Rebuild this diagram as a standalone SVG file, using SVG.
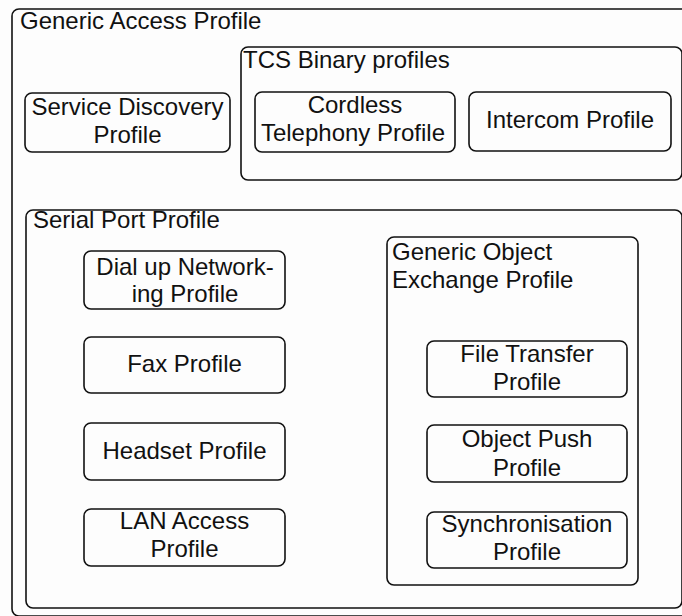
<svg xmlns="http://www.w3.org/2000/svg" width="682" height="616" viewBox="0 0 682 616">
  <style>
    .box { fill: none; stroke: #111; stroke-width: 1.6; }
    .frame { fill: #fdfdfd; stroke: #111; stroke-width: 1.6; }
    text { font-family: "Liberation Sans", Arial, sans-serif; font-size: 24px; fill: #111; }
    .c { text-anchor: middle; }
  </style>
  <rect width="682" height="616" fill="#fdfdfd"/>

  <!-- outer container -->
  <g id="generic-access-profile">
    <rect class="frame" x="12" y="9" width="720" height="607" rx="7"/>
    <text x="20" y="29">Generic Access Profile</text>
  </g>

  <g id="service-discovery-profile">
    <rect class="box" x="25" y="93" width="205" height="59" rx="7"/>
    <text class="c" x="127.5" y="115">Service Discovery</text>
    <text class="c" x="127.5" y="143">Profile</text>
  </g>

  <g id="tcs-binary-profiles">
    <rect class="box" x="241" y="47" width="441" height="133" rx="7"/>
    <text x="243" y="68">TCS Binary profiles</text>
  </g>

  <g id="cordless-telephony-profile">
    <rect class="box" x="255" y="92" width="200" height="60" rx="7"/>
    <text class="c" x="355" y="113">Cordless</text>
    <text class="c" x="353" y="141">Telephony Profile</text>
  </g>

  <g id="intercom-profile">
    <rect class="box" x="469" y="92" width="202" height="59" rx="7"/>
    <text class="c" x="570" y="128">Intercom Profile</text>
  </g>

  <g id="serial-port-profile">
    <rect class="box" x="26" y="210" width="656" height="398" rx="7"/>
    <text x="33" y="228">Serial Port Profile</text>
  </g>

  <g id="dial-up-networking-profile">
    <rect class="box" x="84" y="251" width="201" height="58" rx="7"/>
    <text class="c" x="185" y="275">Dial up Network-</text>
    <text class="c" x="185" y="302">ing Profile</text>
  </g>

  <g id="fax-profile">
    <rect class="box" x="84" y="337" width="201" height="56" rx="7"/>
    <text class="c" x="184.5" y="372">Fax Profile</text>
  </g>

  <g id="headset-profile">
    <rect class="box" x="84" y="423" width="201" height="57" rx="7"/>
    <text class="c" x="184.5" y="459">Headset Profile</text>
  </g>

  <g id="lan-access-profile">
    <rect class="box" x="84" y="509" width="201" height="57" rx="7"/>
    <text class="c" x="184.5" y="529">LAN Access</text>
    <text class="c" x="184.5" y="557">Profile</text>
  </g>

  <g id="generic-object-exchange-profile">
    <rect class="box" x="387" y="237" width="251" height="348" rx="7"/>
    <text x="392" y="260">Generic Object</text>
    <text x="392" y="288">Exchange Profile</text>
  </g>

  <g id="file-transfer-profile">
    <rect class="box" x="427" y="341" width="200" height="56" rx="7"/>
    <text class="c" x="527" y="362">File Transfer</text>
    <text class="c" x="527" y="390">Profile</text>
  </g>

  <g id="object-push-profile">
    <rect class="box" x="427" y="425" width="200" height="57" rx="7"/>
    <text class="c" x="527" y="447">Object Push</text>
    <text class="c" x="527" y="476">Profile</text>
  </g>

  <g id="synchronisation-profile">
    <rect class="box" x="427" y="512" width="200" height="56" rx="7"/>
    <text class="c" x="527" y="532">Synchronisation</text>
    <text class="c" x="527" y="560">Profile</text>
  </g>

  <!-- nesting only, no links between profiles -->
  <g id="connectors"/>
</svg>
